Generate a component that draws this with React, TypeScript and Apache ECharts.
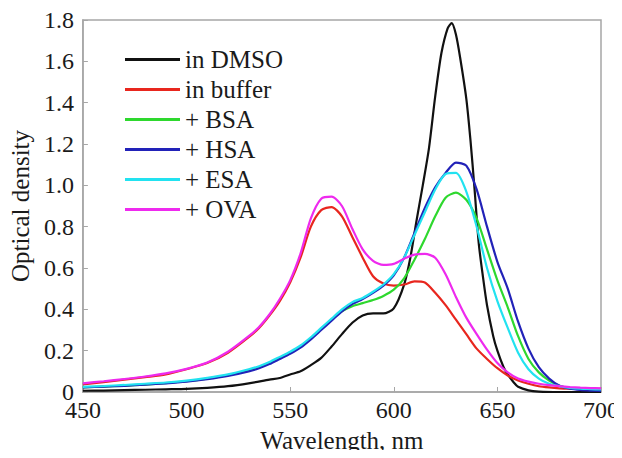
import React, { useEffect, useRef } from "react";
import * as echarts from "echarts";

// Shared wavelength grid (nm) for most spectra
const wavelengths = [
  450, 460, 470, 480, 490, 500, 510, 520, 530, 535, 540, 545, 550, 555, 560, 565, 570, 575,
  580, 585, 590, 595, 600, 605, 610, 615, 620, 625, 630, 635, 640, 645, 650, 655, 660, 665,
  670, 675, 680, 685, 690, 695, 700,
];

// Finer wavelength grid for the sharp DMSO band
const wavelengthsDmso = [
  450, 460, 470, 480, 490, 500, 510, 520, 530, 540, 545, 550, 555, 560, 565, 570, 575, 580,
  585, 590, 595, 600, 605, 608, 611, 614, 617, 620, 623, 626, 628, 630, 632, 635, 637, 639,
  641, 643, 645, 648, 650, 653, 655, 658, 660, 665, 670, 680, 690, 700,
];

const inDmso = [
  0.006, 0.007, 0.009, 0.011, 0.013, 0.015, 0.02, 0.028, 0.042, 0.06, 0.068, 0.085, 0.1, 0.13,
  0.165, 0.22, 0.28, 0.335, 0.37, 0.38, 0.38, 0.405, 0.52, 0.65, 0.83, 1.0, 1.18, 1.43, 1.64,
  1.76, 1.785, 1.73, 1.62, 1.42, 1.22, 0.98, 0.72, 0.56, 0.42, 0.27, 0.2, 0.12, 0.085, 0.045,
  0.025, 0.008, 0.002, 0.0, 0.0, 0.0,
];

const inBuffer = [
  0.037, 0.048, 0.06, 0.072, 0.085, 0.11, 0.14, 0.19, 0.265, 0.31, 0.37, 0.44, 0.53, 0.65, 0.8,
  0.88, 0.895, 0.85, 0.75, 0.65, 0.56, 0.525, 0.515, 0.52, 0.535, 0.53, 0.48, 0.42, 0.35, 0.28,
  0.21, 0.16, 0.115, 0.08, 0.056, 0.04, 0.028, 0.022, 0.018, 0.016, 0.015, 0.015, 0.015,
];

const plusBsa = [
  0.022, 0.026, 0.03, 0.036, 0.043, 0.052, 0.065, 0.082, 0.105, 0.12, 0.14, 0.165, 0.19, 0.22,
  0.26, 0.305, 0.35, 0.39, 0.415, 0.43, 0.445, 0.465, 0.495, 0.55, 0.64, 0.74, 0.85, 0.94, 0.965,
  0.93, 0.84, 0.69, 0.54, 0.41, 0.27, 0.16, 0.095, 0.055, 0.03, 0.018, 0.013, 0.011, 0.01,
];

const plusHsa = [
  0.022, 0.026, 0.03, 0.036, 0.042, 0.05, 0.062, 0.078, 0.1, 0.115, 0.135, 0.16, 0.185, 0.215,
  0.255, 0.3, 0.345, 0.39, 0.425, 0.45, 0.48, 0.515, 0.565, 0.65, 0.77, 0.89, 0.99, 1.06, 1.11,
  1.095, 0.98, 0.8, 0.63, 0.5, 0.34, 0.21, 0.12, 0.065, 0.03, 0.016, 0.01, 0.007, 0.005,
];

const plusEsa = [
  0.025, 0.029, 0.034, 0.04, 0.046, 0.055, 0.068, 0.085, 0.11, 0.125, 0.145, 0.17, 0.195, 0.225,
  0.265, 0.31, 0.355, 0.4, 0.435, 0.455, 0.485, 0.52, 0.57, 0.65, 0.76, 0.87, 0.98, 1.055, 1.06,
  0.97, 0.8, 0.6, 0.44, 0.31, 0.19, 0.11, 0.065, 0.04, 0.028, 0.02, 0.016, 0.014, 0.012,
];

const plusOva = [
  0.042, 0.052, 0.063, 0.075, 0.09, 0.112, 0.143, 0.195, 0.27, 0.315, 0.375, 0.45, 0.54, 0.67,
  0.84, 0.935, 0.945, 0.9, 0.79, 0.69, 0.635, 0.615, 0.62, 0.645, 0.665, 0.668, 0.65, 0.57, 0.46,
  0.36, 0.28, 0.205, 0.14, 0.095, 0.065, 0.05, 0.04, 0.033, 0.028, 0.024, 0.021, 0.019, 0.018,
];

const seriesNames = ["in DMSO", "in buffer", "+ BSA", "+ HSA", "+ ESA", "+ OVA"];
const seriesColors = ["#111111", "#e8261e", "#2ed82e", "#2222b8", "#22e2f0", "#ee2aee"];

const FONT = "Times New Roman, Times, Liberation Serif, Nimbus Roman, FreeSerif, DejaVu Serif, serif";

const pair = (xs: number[], ys: number[]) => xs.map((x, i) => [x, ys[i]]);

export default function App() {
  const ref = useRef<HTMLDivElement>(null);

  useEffect(() => {
    if (!ref.current) return;
    const chart = echarts.init(ref.current, undefined, { renderer: "svg" });
    const dataSets = [
      pair(wavelengthsDmso, inDmso),
      pair(wavelengths, inBuffer),
      pair(wavelengths, plusBsa),
      pair(wavelengths, plusHsa),
      pair(wavelengths, plusEsa),
      pair(wavelengths, plusOva),
    ];
    chart.setOption({
      animation: false,
      backgroundColor: "#ffffff",
      textStyle: { fontFamily: FONT },
      grid: {
        left: 80,
        right: 21,
        top: 20,
        bottom: 55,
        show: true,
        borderColor: "#a6a6a6",
        borderWidth: 1.5,
        backgroundColor: "transparent",
      },
      legend: {
        orient: "vertical",
        left: 120,
        top: 42,
        itemWidth: 55,
        itemHeight: 3,
        itemGap: 5,
        icon: "rect",
        data: seriesNames,
        textStyle: { fontFamily: FONT, fontSize: 25, color: "#1a1a1a" },
      },
      xAxis: {
        type: "value",
        min: 450,
        max: 700,
        interval: 50,
        name: "Wavelength, nm",
        nameLocation: "middle",
        nameGap: 36,
        nameTextStyle: { fontFamily: FONT, fontSize: 25, color: "#1a1a1a" },
        axisLine: { show: true, lineStyle: { color: "#a6a6a6", width: 1.5 } },
        axisTick: { show: true, inside: true, length: 5, lineStyle: { color: "#a6a6a6" } },
        axisLabel: { fontFamily: FONT, fontSize: 24, color: "#1a1a1a", margin: 9, lineHeight: 18 },
        splitLine: { show: false },
      },
      yAxis: {
        type: "value",
        min: 0,
        max: 1.8,
        interval: 0.2,
        name: "Optical density",
        nameLocation: "middle",
        nameGap: 48,
        nameTextStyle: { fontFamily: FONT, fontSize: 25, color: "#1a1a1a" },
        axisLine: { show: true, lineStyle: { color: "#a6a6a6", width: 1.5 } },
        axisTick: { show: true, inside: true, length: 5, lineStyle: { color: "#a6a6a6" } },
        axisLabel: {
          fontFamily: FONT,
          fontSize: 24,
          color: "#1a1a1a",
          margin: 9,
          lineHeight: 18,
          formatter: (v: number) => (Math.abs(v) < 1e-9 ? "0" : v.toFixed(1)),
        },
        splitLine: { show: false },
      },
      series: seriesNames.map((name, i) => ({
        name,
        type: "line",
        data: dataSets[i],
        showSymbol: false,
        symbol: "none",
        smooth: 0.25,
        lineStyle: { color: seriesColors[i], width: 2.2 },
        itemStyle: { color: seriesColors[i] },
        z: 2 + i,
      })),
    });
    return () => chart.dispose();
  }, []);

  return <div ref={ref} style={{ width: 622, height: 458, margin: -8 }} />;
}
